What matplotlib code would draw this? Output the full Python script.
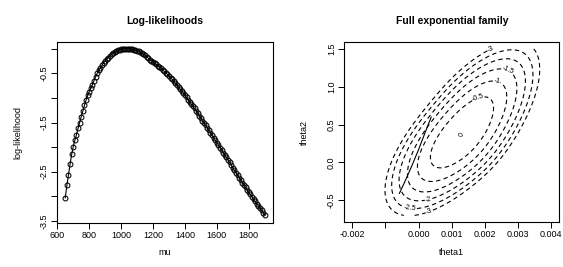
import numpy as np
import matplotlib
matplotlib.use("Agg")
import matplotlib.pyplot as plt

plt.rcParams['font.family'] = ['Liberation Sans', 'DejaVu Sans']

# ---------------- left panel: log-likelihood over mu ----------------
mu = list(range(650, 1901, 10))
loglik = [
    -3.03, -2.78, -2.56, -2.35, -2.15, -1.99, -1.86, -1.75, -1.62, -1.50,
    -1.38, -1.27, -1.15, -1.05, -0.95, -0.87, -0.80, -0.73, -0.65, -0.57,
    -0.50, -0.44, -0.39, -0.34, -0.29, -0.25, -0.21, -0.18, -0.14, -0.11,
    -0.09, -0.07, -0.05, -0.035, -0.02, -0.01, -0.005, -0.002, 0.0, 0.0,
    -0.002, -0.006, -0.012, -0.02, -0.03, -0.04, -0.055, -0.07, -0.09, -0.11,
    -0.13, -0.16, -0.19, -0.22, -0.245, -0.27, -0.295, -0.32, -0.345, -0.37,
    -0.40, -0.43, -0.46, -0.49, -0.52, -0.555, -0.59, -0.625, -0.66, -0.70,
    -0.74, -0.78, -0.82, -0.86, -0.90, -0.945, -0.99, -1.035, -1.08, -1.125,
    -1.17, -1.215, -1.26, -1.31, -1.36, -1.41, -1.46, -1.51, -1.56, -1.61,
    -1.66, -1.71, -1.76, -1.81, -1.86, -1.91, -1.96, -2.01, -2.06, -2.11,
    -2.16, -2.21, -2.26, -2.31, -2.365, -2.42, -2.47, -2.52, -2.57, -2.62,
    -2.67, -2.72, -2.77, -2.82, -2.87, -2.92, -2.96, -3.01, -3.06, -3.10,
    -3.15, -3.19, -3.24, -3.28, -3.33, -3.37,
]
left_xticks = [600, 800, 1000, 1200, 1400, 1600, 1800]
left_yticks = [-3.5, -3.0, -2.5, -2.0, -1.5, -1.0, -0.5, 0.0]
left_ylabels = ['-3.5', '', '-2.5', '', '-1.5', '', '-0.5', '']

# ---------------- right panel: full exponential family ----------------
# likelihood surface: centre, scales and the
# quadratic forms on the upper-right and lower-left sides of the peak
centre = (0.0013, 0.37)
scale = (0.00092, 0.48)
upper_form = (1.82, -1.28, 1.82)
lower_form = (1.80, -1.39, 2.27)
theta1_range = (-0.002, 0.004)
theta2_range = (-0.7, 1.5)
levels = [-3, -2.5, -2, -1.5, -1, -0.5]
label_pos = [(0.00221, 1.47), (0.0027, 1.24), (0.00237, 1.107), (0.00181, 0.83),
             (0.0003, -0.49), (-0.00025, -0.61), (0.00032, -0.65)]
# curved sub-family drawn as a solid line
curve_t1 = [-0.00058, -0.0004, -0.0002, 0.0, 0.0002, 0.00038]
curve_t2 = [-0.41, -0.24, -0.04, 0.17, 0.40, 0.60]
right_xticks = [-0.002, -0.001, 0.0, 0.001, 0.002, 0.003, 0.004]
right_xlabels = ['-0.002', '', '0.000', '0.001', '0.002', '0.003', '0.004']
right_yticks = [-0.5, 0.0, 0.5, 1.0, 1.5]
right_ylabels = ['-0.5', '0.0', '0.5', '1.0', '1.5']

W, H = 563, 267
fig = plt.figure(figsize=(W / 100, H / 100), dpi=100)
ax1 = fig.add_axes([57.3 / W, 1 - 222.7 / H, 215.4 / W, 180.7 / H])
ax2 = fig.add_axes([344.3 / W, 1 - 222.0 / H, 215.0 / W, 179.7 / H])

tick_fs = 6.5
for ax in (ax1, ax2):
    for s in ax.spines.values():
        s.set_linewidth(0.8)
    ax.tick_params(direction='out', length=4, width=0.7, labelsize=tick_fs, pad=2)

# left
ax1.plot(mu, loglik, color='black', lw=0.8, marker='o', ms=3.5,
         mfc='none', mec='black', mew=0.75)
ax1.set_xlim(600, 1950)
ax1.set_ylim(-3.536, 0.136)
ax1.set_xticks(left_xticks)
ax1.set_yticks(left_yticks)
ax1.set_yticklabels(left_ylabels, rotation=90, va='center')
ax1.set_title('Log-likelihoods', fontsize=7.5, fontweight='bold', pad=13)
ax1.set_xlabel('mu', fontsize=6.5, labelpad=6)
ax1.set_ylabel('log-likelihood', fontsize=6.5, labelpad=13)

# right
t1 = np.linspace(theta1_range[0], theta1_range[1], 240)
t2 = np.linspace(theta2_range[0], theta2_range[1], 240)
T1, T2 = np.meshgrid(t1, t2)
d1 = (T1 - centre[0]) / scale[0]
d2 = (T2 - centre[1]) / scale[1]


def qform(f):
    return f[0] * d1 ** 2 + 2 * f[1] * d1 * d2 + f[2] * d2 ** 2


w = 1.0 / (1.0 + np.exp(-(d1 + d2) / 0.6))
Z = -0.5 * (w * qform(upper_form) + (1 - w) * qform(lower_form))
cs = ax2.contour(T1, T2, Z, levels=levels, colors='black', linewidths=0.8)
cs.set_linestyle((0, (4, 3)))
ax2.clabel(cs, fmt=lambda v: '%g' % v, fontsize=5, inline=True,
           inline_spacing=1, manual=label_pos)
ax2.text(centre[0], centre[1], '0', fontsize=5, rotation=70,
         ha='center', va='center')
ax2.plot(curve_t1, curve_t2, color='black', lw=0.8)
ax2.set_xlim(-0.00224, 0.00424)
ax2.set_ylim(-0.788, 1.588)
ax2.set_xticks(right_xticks)
ax2.set_xticklabels(right_xlabels)
ax2.set_yticks(right_yticks)
ax2.set_yticklabels(right_ylabels, rotation=90, va='center')
ax2.set_title('Full exponential family', fontsize=7.5, fontweight='bold', pad=13)
ax2.set_xlabel('theta1', fontsize=6.5, labelpad=6)
ax2.set_ylabel('theta2', fontsize=6.5, labelpad=13)

fig.savefig('out.png', dpi=100)
